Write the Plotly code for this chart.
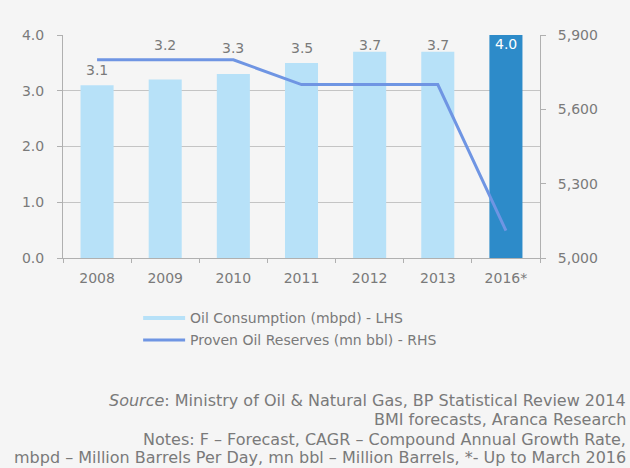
import plotly.graph_objects as go

years = ["2008", "2009", "2010", "2011", "2012", "2013", "2016*"]
consumption = [3.1, 3.2, 3.3, 3.5, 3.7, 3.7, 4.0]
reserves = [5800, 5800, 5800, 5700, 5700, 5700, 5110]
label_shift = [15, 35, 26, 15, 7, 7, -9]

LIGHT = "#b7e1f8"
DARK = "#2d8bc9"
LINE = "#6f95e3"
TXT = "#7a7a7a"
AX = "#b0b0b0"
BG = "#f5f5f5"
FONT = "DejaVu Sans"

bar_colors = [LIGHT] * (len(years) - 1) + [DARK]

fig = go.Figure()
fig.add_trace(go.Bar(x=years, y=consumption, marker_color=bar_colors,
                     marker_line_width=0, showlegend=False, yaxis="y"))
fig.add_trace(go.Scatter(x=years, y=reserves, mode="lines",
                         line=dict(color=LINE, width=3), showlegend=False, yaxis="y2"))

ann = []
for i, v in enumerate(consumption):
    ann.append(dict(x=i, y=v, xref="x", yref="y", text=f"{v:.1f}", showarrow=False,
                    yshift=label_shift[i],
                    font=dict(family=FONT, size=14, color="white" if i == len(years) - 1 else TXT)))

# custom legend
ann.append(dict(xref="paper", yref="paper", x=0.262, y=-0.269, xanchor="left", yanchor="middle",
                text="Oil Consumption (mbpd) - LHS", showarrow=False,
                font=dict(family=FONT, size=14, color=TXT)))
ann.append(dict(xref="paper", yref="paper", x=0.262, y=-0.368, xanchor="left", yanchor="middle",
                text="Proven Oil Reserves (mn bbl) - RHS", showarrow=False,
                font=dict(family=FONT, size=14, color=TXT)))

notes = [
    ("<i>Source</i>: Ministry of Oil &amp; Natural Gas, BP Statistical Review 2014", -0.641),
    ("BMI forecasts, Aranca Research", -0.726),
    ("Notes: F – Forecast, CAGR – Compound Annual Growth Rate,", -0.812),
    ("mbpd – Million Barrels Per Day, mn bbl – Million Barrels, *- Up to March 2016", -0.893),
]
for t, yy in notes:
    ann.append(dict(xref="paper", yref="paper", x=1.184, y=yy, xanchor="right", yanchor="middle",
                    text=t, showarrow=False, font=dict(family=FONT, size=16, color=TXT)))

shapes = [
    dict(type="rect", xref="paper", yref="paper", x0=0.168, x1=0.256, y0=-0.260, y1=-0.278,
         fillcolor=LIGHT, line_width=0),
    dict(type="line", xref="paper", yref="paper", x0=0.168, x1=0.256, y0=-0.368, y1=-0.368,
         line=dict(color=LINE, width=3)),
]

fig.update_layout(
    width=630, height=468,
    margin=dict(l=63, r=90, t=35, b=210),
    paper_bgcolor=BG, plot_bgcolor=BG,
    bargap=0.515,
    annotations=ann, shapes=shapes,
    font=dict(family=FONT, size=14, color=TXT),
    xaxis=dict(type="category", range=[-0.5, len(years) - 0.5], autorange=False,
               showline=True, linecolor=AX, linewidth=1, ticks="outside",
               tickson="boundaries", ticklen=4, tickcolor=AX, showgrid=False,
               ticklabelstandoff=7, tickfont=dict(family=FONT, size=14, color=TXT)),
    yaxis=dict(range=[0, 4], dtick=1, tickformat=".1f", showline=True, linecolor=AX,
               ticks="outside", ticklen=5, tickcolor=AX, showgrid=True, gridcolor="#c4c4c4",
               zeroline=False, ticklabelstandoff=10,
               tickfont=dict(family=FONT, size=14, color=TXT)),
    yaxis2=dict(range=[5000, 5900], tickvals=[5000, 5300, 5600, 5900], tickformat=",",
                overlaying="y", side="right", showline=True, linecolor=AX, ticks="outside",
                ticklen=5, tickcolor=AX, showgrid=False, zeroline=False, ticklabelstandoff=9,
                tickfont=dict(family=FONT, size=14, color=TXT)),
)

fig.write_html("out.html")
